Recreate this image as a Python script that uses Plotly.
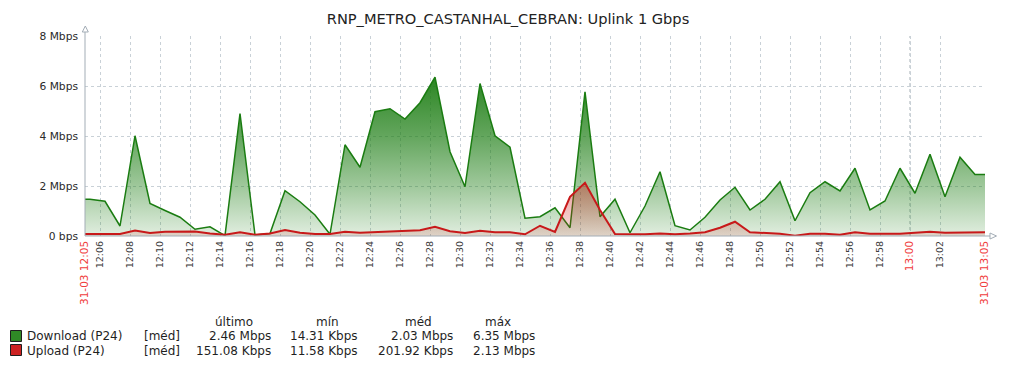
import plotly.graph_objects as go

# ---------------- data ----------------
day = "2024-03-31"
sample_times = ["12:05:00", "12:05:20", "12:06:20", "12:07:20", "12:08:20", "12:09:20", "12:10:20",
                "12:11:20", "12:12:20", "12:13:20", "12:14:20", "12:15:20", "12:16:20", "12:17:20",
                "12:18:20", "12:19:20", "12:20:20", "12:21:20", "12:22:20", "12:23:20", "12:24:20",
                "12:25:20", "12:26:20", "12:27:20", "12:28:20", "12:29:20", "12:30:20", "12:31:20",
                "12:32:20", "12:33:20", "12:34:20", "12:35:20", "12:36:20", "12:37:20", "12:38:20",
                "12:39:20", "12:40:20", "12:41:20", "12:42:20", "12:43:20", "12:44:20", "12:45:20",
                "12:46:20", "12:47:20", "12:48:20", "12:49:20", "12:50:20", "12:51:20", "12:52:20",
                "12:53:20", "12:54:20", "12:55:20", "12:56:20", "12:57:20", "12:58:20", "12:59:20",
                "13:00:20", "13:01:20", "13:02:20", "13:03:20", "13:04:20", "13:05:00"]

# Mbps
download_mbps = [1.47, 1.47, 1.39, 0.40, 4.01, 1.30, 1.02, 0.75, 0.27, 0.37, 0.014,
                 4.90, 0.04, 0.10, 1.81, 1.37, 0.84, 0.07, 3.65, 2.75, 4.97,
                 5.09, 4.68, 5.33, 6.35, 3.37, 1.97, 6.10, 4.01, 3.55, 0.71,
                 0.77, 1.13, 0.33, 5.77, 0.77, 1.47, 0.13, 1.20, 2.57, 0.41,
                 0.24, 0.75, 1.44, 1.95, 1.04, 1.47, 2.17, 0.61, 1.73, 2.17,
                 1.80, 2.71, 1.04, 1.40, 2.71, 1.71, 3.27, 1.57, 3.15, 2.46, 2.46]

upload_mbps = [0.08, 0.08, 0.10, 0.08, 0.22, 0.12, 0.17, 0.18, 0.18, 0.10, 0.05,
               0.15, 0.05, 0.10, 0.24, 0.13, 0.08, 0.08, 0.17, 0.13, 0.15,
               0.20, 0.19, 0.23, 0.37, 0.19, 0.12, 0.21, 0.15, 0.15, 0.07,
               0.41, 0.16, 1.57, 2.13, 1.04, 0.08, 0.07, 0.07, 0.10, 0.07,
               0.10, 0.15, 0.33, 0.57, 0.15, 0.13, 0.09, 0.012, 0.09, 0.09,
               0.05, 0.15, 0.09, 0.09, 0.09, 0.13, 0.17, 0.13, 0.13, 0.151, 0.151]

y_tick_vals = [0, 2, 4, 6, 8]
y_tick_text = ["0 bps", "2 Mbps", "4 Mbps", "6 Mbps", "8 Mbps"]

x_tick_times = ["12:05", "12:06", "12:08", "12:10", "12:12", "12:14", "12:16", "12:18", "12:20",
                "12:22", "12:24", "12:26", "12:28", "12:30", "12:32", "12:34", "12:36", "12:38",
                "12:40", "12:42", "12:44", "12:46", "12:48", "12:50", "12:52", "12:54", "12:56",
                "12:58", "13:00", "13:02", "13:05"]
x_tick_labels = ["31-03 12:05", "12:06", "12:08", "12:10", "12:12", "12:14", "12:16", "12:18", "12:20",
                 "12:22", "12:24", "12:26", "12:28", "12:30", "12:32", "12:34", "12:36", "12:38",
                 "12:40", "12:42", "12:44", "12:46", "12:48", "12:50", "12:52", "12:54", "12:56",
                 "12:58", "13:00", "13:02", "31-03 13:05"]
x_red_labels = {"31-03 12:05", "13:00", "31-03 13:05"}

series_names = ["Download (P24)", "Upload (P24)"]
stat_headers = ["último", "mín", "méd", "máx"]
stats_download = ["2.46 Mbps", "14.31 Kbps", "2.03 Mbps", "6.35 Mbps"]
stats_upload = ["151.08 Kbps", "11.58 Kbps", "201.92 Kbps", "2.13 Mbps"]

title_text = "RNP_METRO_CASTANHAL_CEBRAN: Uplink 1 Gbps"

# ---------------- styling ----------------
FONT = "DejaVu Sans"
GREEN = "#1a7c11"
RED = "#c8191a"
AXIS = "#a3adb6"
GRID = "#c9d1d7"
RED_TXT = "#f03c3c"

W, H = 1016, 368
L, R, T, B = 85, 985, 36, 236  # plot area in pixels


def px(x):
    return (x - L) / (R - L)


def py(y):
    return (B - y) / (B - T)


xs = [f"{day} {t}" for t in sample_times]


def grad(rgb):
    r, g, b = rgb
    return [[0.0, f"rgba({r},{g},{b},0.13)"],
            [0.25, f"rgba({r},{g},{b},0.42)"],
            [0.5, f"rgba({r},{g},{b},0.68)"],
            [0.8, f"rgba({r},{g},{b},0.93)"],
            [1.0, f"rgba({r},{g},{b},1.0)"]]


fig = go.Figure()
fig.add_trace(go.Scatter(
    x=xs, y=download_mbps, mode="lines", name=series_names[0],
    line=dict(color=GREEN, width=1.5),
    fill="tozeroy",
    fillgradient=dict(type="vertical", colorscale=grad((26, 124, 17)), start=0, stop=8),
    hoverinfo="skip"))
fig.add_trace(go.Scatter(
    x=xs, y=upload_mbps, mode="lines", name=series_names[1],
    line=dict(color=RED, width=2),
    fill="tozeroy",
    fillgradient=dict(type="vertical", colorscale=grad((205, 30, 30)), start=0, stop=8),
    hoverinfo="skip"))

ticktext = []
for lab in x_tick_labels:
    if lab in x_red_labels:
        ticktext.append(f'<span style="color:{RED_TXT};font-size:10.5px">{lab}</span>')
    else:
        ticktext.append(lab)

fig.update_layout(
    width=W, height=H,
    margin=dict(l=L, r=W - R, t=T, b=H - B),
    paper_bgcolor="white", plot_bgcolor="white",
    showlegend=False,
    font=dict(family=FONT, color="#333333", size=10),
    title=dict(text=title_text, x=0.5, xref="container", xanchor="center",
               y=1 - 19 / H, yref="container", yanchor="middle",
               font=dict(family=FONT, size=14.6, color="#222222")),
    xaxis=dict(type="date", range=[f"{day} 12:05:00", f"{day} 13:05:00"],
               tickvals=[f"{day} {t}" for t in x_tick_times], ticktext=ticktext,
               tickangle=-90, ticks="", ticklabelstandoff=2,
               tickfont=dict(family=FONT, size=9.5, color="#3a3a3a"),
               showgrid=True, gridcolor=GRID, gridwidth=1, griddash="3px,3px",
               showline=False, zeroline=False),
    yaxis=dict(range=[0, 8], tickvals=y_tick_vals, ticktext=y_tick_text,
               ticks="", ticklabelstandoff=6,
               tickfont=dict(family=FONT, size=10.7, color="#2a2a2a"),
               showgrid=True, gridcolor=GRID, gridwidth=1, griddash="3px,3px",
               showline=False, zeroline=False),
)

shapes = []
# 13:00 darker grid line
shapes.append(dict(type="line", xref="x", yref="paper", x0=f"{day} 13:00", x1=f"{day} 13:00",
                   y0=0, y1=1, line=dict(color="#a7b0b7", width=1, dash="3px,3px"), layer="below"))
# axis lines with hollow arrows
shapes.append(dict(type="line", xref="paper", yref="paper", x0=0, x1=0, y0=0, y1=py(32),
                   line=dict(color=AXIS, width=1)))
shapes.append(dict(type="line", xref="paper", yref="paper", x0=0, x1=px(990), y0=0, y1=0,
                   line=dict(color=AXIS, width=1)))
shapes.append(dict(type="path", xref="paper", yref="paper",
                   path=f"M {px(85.3)},{py(26)} L {px(82.3)},{py(32)} L {px(88.3)},{py(32)} Z",
                   line=dict(color=AXIS, width=1), fillcolor="white"))
shapes.append(dict(type="path", xref="paper", yref="paper",
                   path=f"M {px(996.5)},{py(236)} L {px(990)},{py(233)} L {px(990)},{py(239)} Z",
                   line=dict(color=AXIS, width=1), fillcolor="white"))
# legend swatches
shapes.append(dict(type="rect", xref="paper", yref="paper", x0=px(10.5), x1=px(21.5), y0=py(341.5), y1=py(330.5),
                   line=dict(color="#1e1e1e", width=1), fillcolor="#2f8a26"))
shapes.append(dict(type="rect", xref="paper", yref="paper", x0=px(10.5), x1=px(21.5), y0=py(355.5), y1=py(344.5),
                   line=dict(color="#1e1e1e", width=1), fillcolor="#cc2222"))

annotations = []
TXT = "#1f1f1f"


def ann(text, x, y, anchor):
    annotations.append(dict(text=text, xref="paper", yref="paper", x=px(x), y=py(y),
                            xanchor=anchor, yanchor="middle", showarrow=False,
                            font=dict(family=FONT, size=12, color=TXT)))


header_centers = [234, 327, 418, 498]
for h, cx in zip(stat_headers, header_centers):
    ann(h, cx, 322, "center")

col_right = [273, 360, 455, 537]
rows = [(series_names[0], stats_download, 336), (series_names[1], stats_upload, 350.5)]
for name, stats, yy in rows:
    ann(name, 25, yy, "left")
    ann("[méd]", 142, yy, "left")
    for s, xr in zip(stats, col_right):
        ann(s, xr, yy, "right")

fig.update_layout(shapes=shapes, annotations=annotations)

fig.write_html("out.html", config={"displayModeBar": False},
               post_script="document.body.style.margin='0px';document.body.style.overflow='hidden';")
